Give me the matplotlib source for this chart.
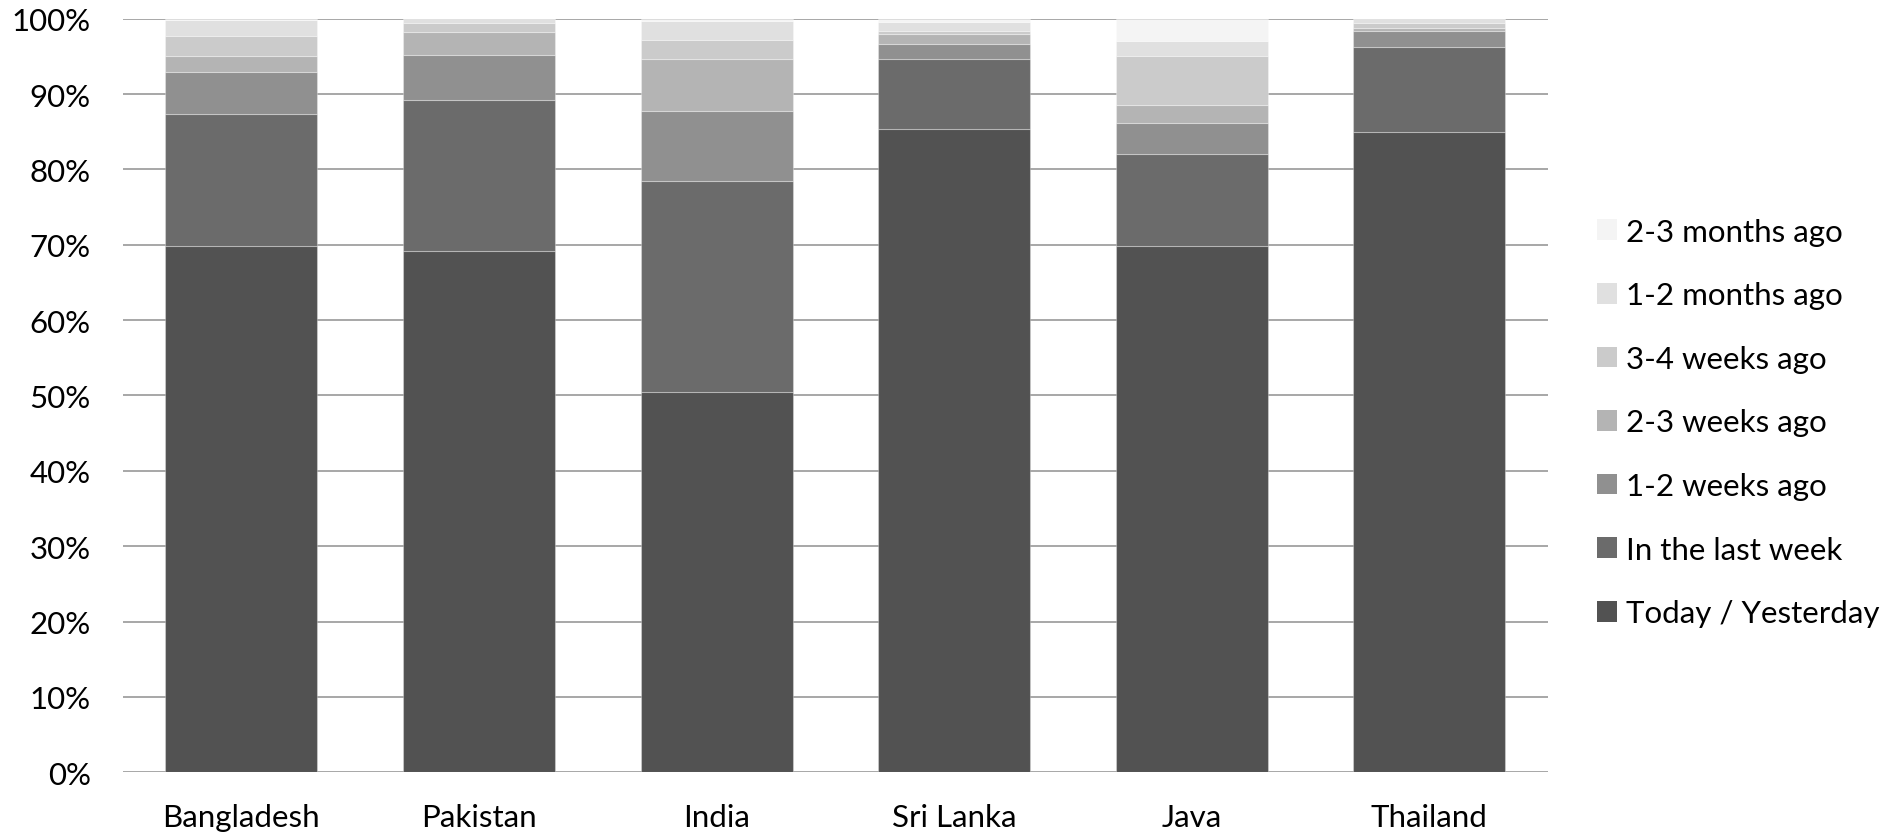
import matplotlib
matplotlib.use("Agg")
import matplotlib.pyplot as plt
from matplotlib.ticker import PercentFormatter
import numpy as np

# data (percent of respondents)
countries = ["Bangladesh", "Pakistan", "India", "Sri Lanka", "Java", "Thailand"]
series_names = ["Today / Yesterday", "In the last week", "1-2 weeks ago",
                "2-3 weeks ago", "3-4 weeks ago", "1-2 months ago", "2-3 months ago"]
today_yesterday = [69.9, 69.2, 50.5, 85.3, 69.8, 85.0]
last_week       = [17.5, 20.0, 28.0,  9.4, 12.3, 11.2]
weeks_1_2       = [ 5.5,  6.0,  9.3,  2.0,  4.1,  2.2]
weeks_2_3       = [ 2.2,  3.0,  6.9,  1.2,  2.3,  0.4]
weeks_3_4       = [ 2.6,  1.2,  2.5,  0.4,  6.5,  0.6]
months_1_2      = [ 2.1,  0.5,  2.5,  1.2,  2.1,  0.5]
months_2_3      = [ 0.2,  0.1,  0.3,  0.5,  2.9,  0.1]

colors = ["#525252", "#6b6b6b", "#909090", "#b4b4b4", "#cbcbcb", "#e0e0e0", "#f4f4f4"]

plt.rcParams["font.family"] = ["Lato", "DejaVu Sans"]
FS = 22.5

fig = plt.figure(figsize=(18.98, 8.37), dpi=100)
ax = fig.add_axes([0.0646, 0.0761, 0.751, 0.9004])

x = np.arange(len(countries))
stack = [today_yesterday, last_week, weeks_1_2, weeks_2_3, weeks_3_4, months_1_2, months_2_3]
bottom = np.zeros(len(countries))
handles = []
for vals, name, col in zip(stack, series_names, colors):
    bars = ax.bar(x, vals, 0.64, bottom=bottom, color=col, label=name,
                  edgecolor=(1, 1, 1, 0.3), linewidth=0.8, zorder=2)
    handles.append(bars)
    bottom += np.array(vals)

# axes formatting
ax.set_xlim(-0.5, 5.5)
ax.set_ylim(0, 100)
ax.set_yticks(np.arange(0, 101, 10))
ax.yaxis.set_major_formatter(PercentFormatter(decimals=0))
ax.set_xticks(x)
ax.set_xticklabels(countries)
ax.tick_params(axis="both", length=0, labelsize=FS, colors="black")
ax.tick_params(axis="y", pad=23)
ax.tick_params(axis="x", pad=22)
ax.yaxis.grid(True, color="#a0a0a0", linewidth=1.3, zorder=0)
ax.set_axisbelow(True)
for s in ax.spines.values():
    s.set_visible(False)

# legend, newest entry on top
leg = fig.legend(handles[::-1], series_names[::-1], loc="center left",
                 bbox_to_anchor=(1597 / 1898, 1 - 423.5 / 837), bbox_transform=fig.transFigure,
                 frameon=False, fontsize=FS, handlelength=0.64, handleheight=0.64,
                 handletextpad=0.29, labelspacing=1.14, borderpad=0, borderaxespad=0)
for h in leg.legend_handles:
    h.set_edgecolor("none")

plt.savefig("out.png", dpi=100)
plt.close("all")
